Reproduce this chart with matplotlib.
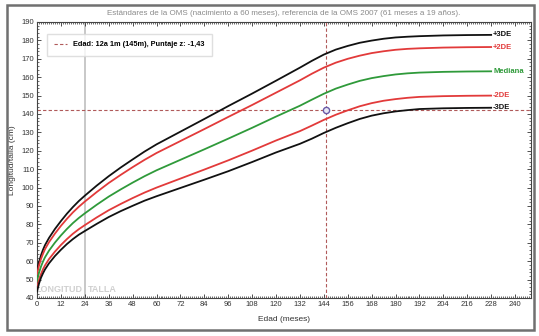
import matplotlib
matplotlib.use("Agg")
import matplotlib.pyplot as plt
from matplotlib.patches import Rectangle
from matplotlib.ticker import MultipleLocator

plt.rcParams['font.family'] = ['Liberation Sans', 'DejaVu Sans']

# edades (meses) y curvas de referencia OMS, niñas
edad = [0, 1, 2, 3, 4, 6, 9, 12, 15, 18, 21, 24, 30, 36, 42, 48, 54, 60, 72,
        84, 96, 108, 120, 132, 138, 144, 150, 156, 162, 168, 174, 180, 186,
        192, 204, 216, 228]
mas3de = [54.7, 59.5, 63.2, 66.2, 68.7, 72.6, 77.5, 81.8, 85.8, 89.4, 92.7,
          95.6, 101.1, 106.2, 110.9, 115.3, 119.6, 123.5, 130.4, 137.3, 144.3,
          151.1, 158.1, 165.2, 168.9, 172.3, 175.0, 177.0, 178.7, 179.9, 180.9,
          181.6, 182.0, 182.3, 182.7, 182.9, 183.0]
mas2de = [52.8, 57.6, 61.2, 64.0, 66.5, 70.3, 75.0, 79.2, 83.0, 86.5, 89.6,
          92.4, 97.6, 102.5, 106.9, 111.1, 115.1, 118.8, 125.3, 131.8, 138.4,
          144.9, 151.6, 158.3, 161.9, 165.2, 167.9, 170.0, 171.7, 173.1, 174.1,
          174.9, 175.4, 175.7, 176.1, 176.3, 176.4]
mediana = [49.1, 53.7, 57.1, 59.8, 62.1, 65.7, 70.1, 74.0, 77.5, 80.7, 83.5,
           86.0, 90.7, 95.1, 99.0, 102.7, 106.2, 109.4, 115.1, 120.8, 126.6,
           132.5, 138.6, 144.5, 147.8, 151.0, 153.8, 156.0, 158.0, 159.5, 160.6,
           161.5, 162.1, 162.5, 162.9, 163.1, 163.2]
menos2de = [45.4, 49.8, 53.0, 55.6, 57.7, 61.1, 65.2, 68.8, 72.0, 74.9, 77.4,
            79.6, 83.8, 87.7, 91.1, 94.3, 97.3, 100.0, 104.9, 109.8, 114.8,
            120.1, 125.6, 130.7, 133.7, 136.8, 139.6, 142.0, 144.2, 145.9, 147.2,
            148.1, 148.8, 149.3, 149.7, 149.9, 150.0]
menos3de = [43.5, 47.8, 51.0, 53.4, 55.5, 58.8, 62.8, 66.2, 69.3, 72.0, 74.4,
            76.4, 80.3, 84.0, 87.2, 90.1, 92.9, 95.3, 99.8, 104.3, 108.9,
            113.9, 119.1, 123.8, 126.6, 129.7, 132.5, 135.0, 137.3, 139.1, 140.4,
            141.4, 142.1, 142.7, 143.1, 143.3, 143.4]

# paciente
edad_paciente = 145
talla_paciente = 142

curvas = [
    (mas3de, "+3DE", "#111111"),
    (mas2de, "+2DE", "#e23a3a"),
    (mediana, "Mediana", "#2f9a3a"),
    (menos2de, "-2DE", "#e23a3a"),
    (menos3de, "-3DE", "#111111"),
]

fig = plt.figure(figsize=(5.39, 3.36), dpi=100)
ax = fig.add_axes([37 / 539, 1 - 298 / 336, (531 - 37) / 539, (298 - 22) / 336])

# marco exterior
fig.patches.append(Rectangle((7 / 539, 1 - 330 / 336), 527 / 539, 325 / 336,
                             transform=fig.transFigure, fill=False,
                             edgecolor="#707070", linewidth=1.8))

# longitud / talla
ax.axvline(24, color="#c4c4c4", linewidth=1.3, zorder=1)
ax.text(23, 44.5, "LONGITUD", ha="right", va="center", color="#d0d0d0",
        fontsize=6.5, fontweight="bold")
ax.text(25.5, 44.5, "TALLA", ha="left", va="center", color="#d0d0d0",
        fontsize=6.5, fontweight="bold")

for valores, nombre, color in curvas:
    ax.plot(edad, valores, color=color, linewidth=1.3, zorder=3)
    ax.text(edad[-1] + 1, valores[-1], nombre, color=color, fontsize=5.5,
            fontweight="bold", va="center", ha="left")

# líneas del paciente
ax.axhline(talla_paciente, color="#b05a5a", linewidth=0.8, linestyle=(0, (3, 2)), zorder=2)
linea_pac, = ax.plot([edad_paciente, edad_paciente], [40, 190], color="#b05a5a",
                     linewidth=0.8, linestyle=(0, (3, 2)), zorder=2)
ax.plot([edad_paciente], [talla_paciente], marker="o", markersize=4.5,
        markerfacecolor="#e8e8f4", markeredgecolor="#6a5aa8",
        markeredgewidth=1.0, zorder=5)

leg = ax.legend([linea_pac], ["Edad: 12a 1m (145m), Puntaje z: -1,43"],
                loc="upper left", bbox_to_anchor=(0.012, 0.97), fontsize=5.3,
                frameon=True, fancybox=False, edgecolor="#d8d8d8",
                handlelength=1.8, borderpad=1.0)
for t in leg.get_texts():
    t.set_fontweight("bold")

ax.set_xlim(0, 248)
ax.set_ylim(40, 190)
ax.xaxis.set_major_locator(MultipleLocator(12))
ax.xaxis.set_minor_locator(MultipleLocator(1))
ax.yaxis.set_major_locator(MultipleLocator(10))
ax.yaxis.set_minor_locator(MultipleLocator(2))
ax.tick_params(which="both", direction="in", top=True, right=True,
               labelsize=5.5, colors="#333333", pad=2)
ax.tick_params(which="major", length=3, width=0.6)
ax.tick_params(which="minor", length=1.5, width=0.5)
for s in ax.spines.values():
    s.set_color("#444444")
    s.set_linewidth(0.8)

ax.set_xlabel("Edad (meses)", fontsize=6, color="#333333", labelpad=6)
ax.set_ylabel("Longitud/talla (cm)", fontsize=6, color="#333333", labelpad=4)
ax.set_title("Estándares de la OMS (nacimiento a 60 meses), referencia de la OMS 2007 (61 meses a 19 años).",
             fontsize=5.8, color="#8a8a8a", pad=5)

fig.savefig("out.png", dpi=100)
